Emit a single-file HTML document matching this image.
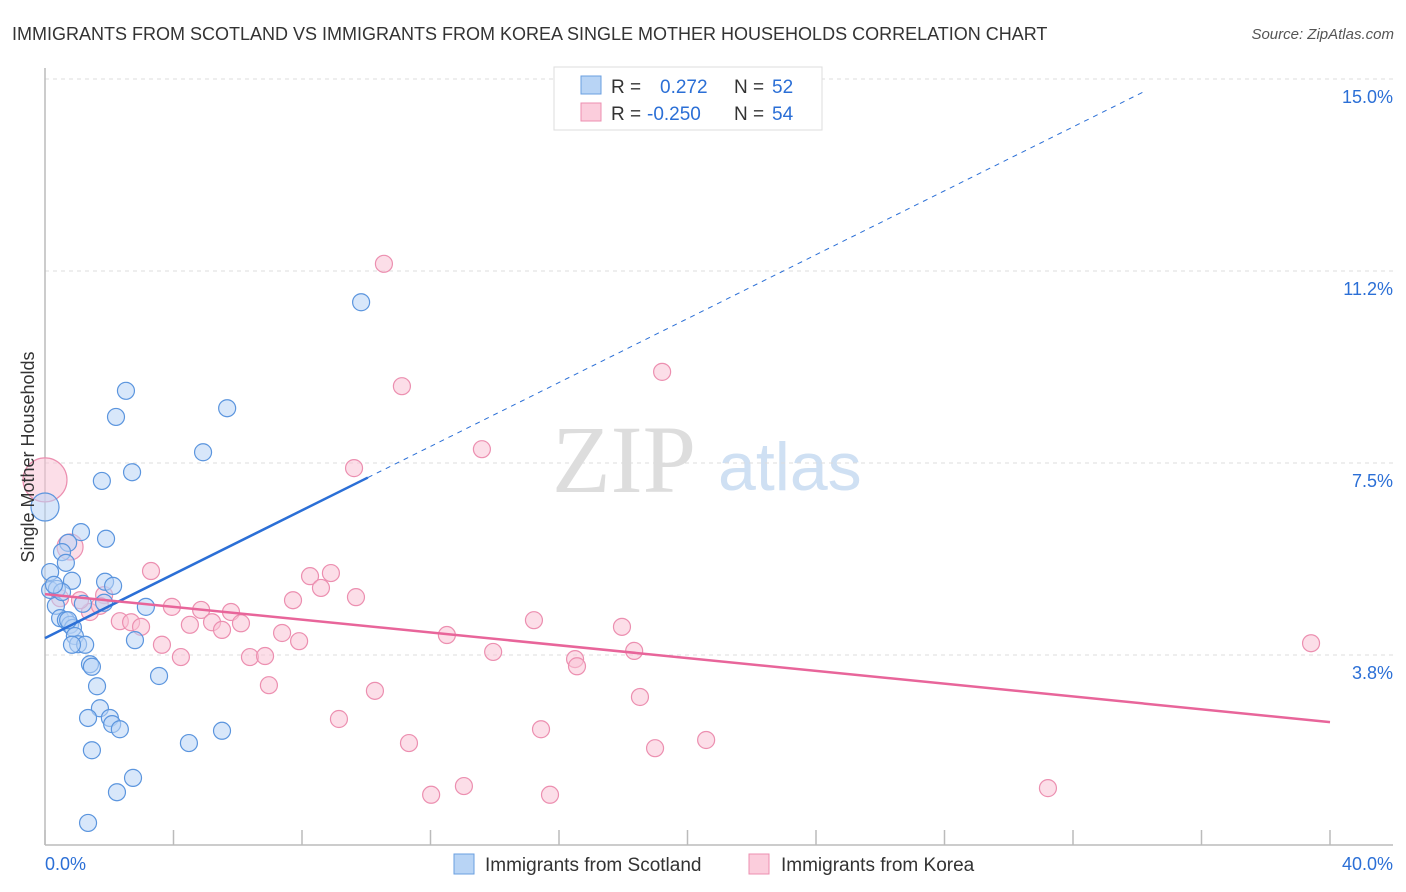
<!DOCTYPE html>
<html><head><meta charset="utf-8"><style>
body{margin:0;background:#fff;font-family:"Liberation Sans",sans-serif}
</style></head><body>
<svg width="1406" height="892" style="display:block">
<text x="12" y="40" font-size="18" fill="#333">IMMIGRANTS FROM SCOTLAND VS IMMIGRANTS FROM KOREA SINGLE MOTHER HOUSEHOLDS CORRELATION CHART</text>
<text x="1394" y="39" font-size="15" fill="#555" font-style="italic" text-anchor="end">Source: ZipAtlas.com</text>
<text x="552" y="492" font-size="96" fill="#ddd" font-family="Liberation Serif">ZIP</text>
<text x="718" y="490" font-size="68" fill="#cfe0f3">atlas</text>
<g id="grid"></g>
<g id="axes"></g>
<g id="marks"></g>
<text transform="translate(34,457) rotate(-90)" font-size="18" fill="#333" text-anchor="middle">Single Mother Households</text>
<g>
<rect x="554" y="67" width="268" height="63" fill="#fff" stroke="#ddd"/>
<rect x="581" y="76" width="20" height="18" fill="#b8d4f5" stroke="#6a9fe0"/>
<rect x="581" y="103" width="20" height="18" fill="#fbcddc" stroke="#ec8fb0"/>
<text x="611" y="93" font-size="19" fill="#333">R = </text><text x="660" y="93" font-size="19" fill="#2b6fd6">0.272</text>
<text x="734" y="93" font-size="19" fill="#333">N = </text><text x="772" y="93" font-size="19" fill="#2b6fd6">52</text>
<text x="611" y="120" font-size="19" fill="#333">R = </text><text x="647" y="120" font-size="19" fill="#2b6fd6">-0.250</text>
<text x="734" y="120" font-size="19" fill="#333">N = </text><text x="772" y="120" font-size="19" fill="#2b6fd6">54</text>
</g>
<g>
<rect x="454" y="854" width="20" height="20" fill="#b8d4f5" stroke="#6a9fe0"/>
<text x="485" y="871" font-size="19" fill="#333">Immigrants from Scotland</text>
<rect x="749" y="854" width="20" height="20" fill="#fbcddc" stroke="#ec8fb0"/>
<text x="781" y="871" font-size="19" fill="#333">Immigrants from Korea</text>
</g>
</svg>
<script>
const xTicks=[0,4,8,12,16,20,24,28,32,36,40];
const yTickVals=[3.75,7.5,11.25,15];
const yTickLabels=["3.8%","7.5%","11.2%","15.0%"];
const xLabels=["0.0%","40.0%"];
const scotX=[9.84,2.52,2.21,5.67,4.92,1.77,2.71,0.0,1.12,1.90,0.72,0.53,0.65,0.16,0.84,1.87,2.12,0.16,0.34,0.47,0.65,0.78,0.87,0.93,1.03,1.25,1.40,1.46,1.62,1.71,1.34,2.02,2.09,2.33,1.46,2.74,2.24,1.34,3.14,2.80,3.55,4.48,5.51,1.84,1.18,0.37,0.53,0.72,0.84,0.28];
const scotY=[10.64,8.91,8.40,8.57,7.71,7.15,7.32,6.64,6.15,6.02,5.94,5.76,5.55,5.37,5.20,5.18,5.10,5.02,4.71,4.47,4.43,4.34,4.28,4.12,3.96,3.95,3.57,3.52,3.14,2.71,2.52,2.52,2.40,2.30,1.89,1.35,1.07,0.47,4.69,4.04,3.34,2.03,2.27,4.77,4.75,5.04,4.98,4.43,3.95,5.12];
const korX=[0.0,10.55,11.11,19.21,13.60,9.62,0.78,3.30,8.25,8.90,8.59,9.68,7.72,3.95,4.86,5.79,5.20,4.51,5.51,6.10,2.33,2.68,2.99,1.40,1.09,1.84,3.64,4.23,6.38,6.85,7.38,7.91,12.51,15.22,17.96,13.95,16.50,16.56,18.34,6.97,10.27,18.52,9.15,15.44,11.33,18.99,20.58,12.02,13.04,15.72,31.22,39.41,0.47,1.71];
const korY=[7.17,11.39,9.00,9.28,7.77,7.40,5.86,5.39,5.29,5.35,5.06,4.88,4.82,4.69,4.63,4.59,4.39,4.34,4.24,4.37,4.41,4.39,4.30,4.59,4.82,4.92,3.95,3.71,3.71,3.73,4.18,4.02,4.14,4.43,4.30,3.81,3.67,3.53,3.83,3.16,3.05,2.93,2.50,2.30,2.03,1.93,2.09,1.02,1.19,1.02,1.15,3.98,4.86,4.71];
const scotTrend=[4.08,0.312];
const korTrend=[4.94,-0.0625];
const X=v=>45+v*32.125, Y=v=>79+(15-v)*51.2;
const NS="http://www.w3.org/2000/svg";
function mk(tag,attrs,parent){const e=document.createElementNS(NS,tag);for(const k in attrs)e.setAttribute(k,attrs[k]);document.getElementById(parent).appendChild(e);return e;}
yTickVals.forEach((v,i)=>{
 const g=mk('line',{x1:45,x2:1393,y1:Y(v),y2:Y(v),stroke:'#ddd','stroke-dasharray':'4,4'},'grid');
 
 
 const t=mk('text',{x:1393,y:Y(v)+24,'font-size':18,fill:'#2b6fd6','text-anchor':'end'},'axes');
 t.textContent=yTickLabels[i];
 
 
});
const ya=mk('line',{x1:45,x2:45,y1:68,y2:845,stroke:'#bbb','stroke-width':1.5},'axes');


const xa=mk('line',{x1:45,x2:1393,y1:845,y2:845,stroke:'#bbb','stroke-width':1.5},'axes');


xTicks.forEach(v=>{
 const t=mk('line',{x1:X(v),x2:X(v),y1:830,y2:845,stroke:'#bbb','stroke-width':1.5},'axes');
 
 
});
[[0,'start',45],[40,'end',1393]].forEach((a,i)=>{
 const t=mk('text',{x:a[2],y:870,'font-size':18,fill:'#2b6fd6','text-anchor':a[1]},'axes');
 t.textContent=xLabels[i];
 
 
});
function dot(x,y,r,fill,stroke,name){
 const c=mk('circle',{cx:X(x),cy:Y(y),r:r,fill:fill,'fill-opacity':0.55,stroke:stroke,'stroke-width':1.2},'marks');
 
 
}
korX.forEach((x,i)=>dot(x,korY[i],i==0?22:(i==6?13:8.5),'#f9c3d5','#ec8fb0','korea-point'));
scotX.forEach((x,i)=>dot(x,scotY[i],i==7?14:8.5,'#b8d4f5','#5b95de','scotland-point'));
const b1=mk('line',{x1:X(0),y1:Y(scotTrend[0]),x2:X(10.05),y2:Y(scotTrend[0]+scotTrend[1]*10.05),stroke:'#2b6fd6','stroke-width':2.5},'marks');


const b2=mk('line',{x1:X(10.05),y1:Y(scotTrend[0]+scotTrend[1]*10.05),x2:X(34.2),y2:Y(scotTrend[0]+scotTrend[1]*34.2),stroke:'#2b6fd6','stroke-width':1,'stroke-dasharray':'5,5'},'marks');


const p1=mk('line',{x1:X(0),y1:Y(korTrend[0]),x2:X(40),y2:Y(korTrend[0]+korTrend[1]*40),stroke:'#e8659a','stroke-width':2.5},'marks');


</script>
</body></html>
